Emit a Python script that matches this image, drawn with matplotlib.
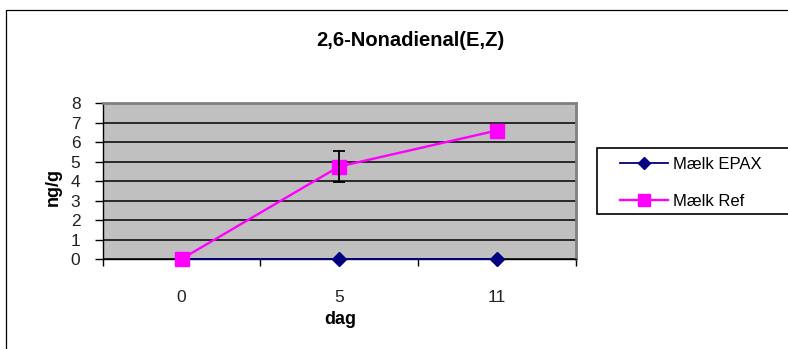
import numpy as np
import matplotlib
matplotlib.use("Agg")
import matplotlib.pyplot as plt
from matplotlib.patches import Rectangle

plt.rcParams['font.family'] = ['Liberation Sans', 'DejaVu Sans']

# data
days = ['0', '5', '11']
epax = [0, 0, 0]
ref = [0, 4.75, 6.6]
ref_err = [0, 0.8, 0]

W, H = 788, 349
fig = plt.figure(figsize=(W / 100, H / 100), dpi=100)

# outer chart border (runs off the right/bottom edge like the reference)
fig.patches.append(Rectangle((6 / W, -0.05), 1.0, 1 - 10 / H + 0.05,
                             transform=fig.transFigure, fill=False,
                             edgecolor='black', linewidth=0.9))

ax = fig.add_axes([102.7 / W, 1 - 259 / H, (575.5 - 102.7) / W, (259 - 103.3) / H])
ax.set_facecolor('#C0C0C0')

x = np.arange(len(days))
ax.plot(x, epax, color='#000080', lw=1.3, marker='D', ms=7, label='Mælk EPAX', zorder=3, clip_on=False)
ax.plot(x, ref, color='#FF00FF', lw=1.7, marker='s', ms=9.5, label='Mælk Ref', zorder=4, clip_on=False)
ax.errorbar(x[1], ref[1], yerr=ref_err[1], fmt='none', ecolor='black',
            elinewidth=1.3, capsize=4, capthick=1.3, zorder=5)

ax.set_xlim(-0.5, 2.5)
ax.set_ylim(0, 8)
ax.set_yticks(range(9))
ax.yaxis.grid(True, color='black', lw=1.1)
ax.set_axisbelow(True)
ax.tick_params(axis='y', direction='out', length=6, width=1, pad=10, labelsize=12.5, colors='black')
ax.set_yticklabels([str(v) for v in range(9)], color='#222222')

ax.set_xticks(x)
ax.set_xticklabels(days, fontsize=12.5, color='#222222')
ax.set_xticks([-0.5, 0.5, 1.5, 2.5], minor=True)
ax.tick_params(axis='x', which='major', length=0, pad=22)
ax.tick_params(axis='x', which='minor', direction='out', length=5, width=1)

for s in ['left', 'bottom']:
    ax.spines[s].set_color('black')
    ax.spines[s].set_linewidth(1)
for s in ['top', 'right']:
    ax.spines[s].set_color('#808080')
    ax.spines[s].set_linewidth(2)

fig.text(410 / W, 1 - 40 / H, '2,6-Nonadienal(E,Z)', ha='center', va='center',
         fontsize=14.5, fontweight='bold')
fig.text(53 / W, 1 - 187 / H, 'ng/g', ha='center', va='center', rotation=90,
         fontsize=13, fontweight='bold')
fig.text(340.7 / W, 1 - 320 / H, 'dag', ha='center', va='center',
         fontsize=13, fontweight='bold')

# legend box
fig.patches.append(Rectangle((596.7 / W, 1 - 214.3 / H), 0.5, 66 / H,
                             transform=fig.transFigure, facecolor='white',
                             edgecolor='black', linewidth=1.2, zorder=0))
leg = fig.legend(loc='upper left', bbox_to_anchor=(620 / W, 1 - 157 / H),
                 bbox_transform=fig.transFigure, frameon=False, fontsize=12,
                 borderpad=0, borderaxespad=0, handlelength=2.9, handletextpad=0.3,
                 labelspacing=1.3, markerscale=0.85)
leg.set_zorder(10)

fig.savefig('out.png', dpi=100)
